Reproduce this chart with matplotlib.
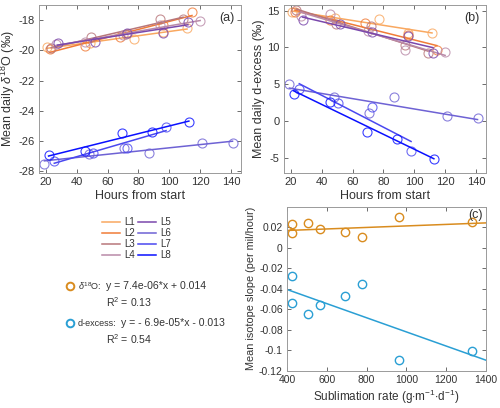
import numpy as np
import matplotlib
matplotlib.use("Agg")
import matplotlib.pyplot as plt
from matplotlib.lines import Line2D
from matplotlib.ticker import FuncFormatter

plt.rcParams['font.family'] = ['Liberation Sans', 'DejaVu Sans']
plt.rcParams['axes.unicode_minus'] = False
plt.rcParams['mathtext.fontset'] = 'custom'
plt.rcParams['mathtext.rm'] = 'Liberation Sans'
plt.rcParams['mathtext.it'] = 'Liberation Sans:italic'

# daily means for each experiment line
labels = ['L1', 'L2', 'L3', 'L4', 'L5', 'L6', 'L7', 'L8']
colors = ['#f9a860', '#f07c38', '#b8767a', '#b98aa8', '#7a48ac', '#6e62d4', '#4a48f0', '#0a10ff']

hours = [
    [20.4, 48.3, 77.2, 96.0, 111.5],
    [22.5, 45.3, 68.2, 96.0, 114.7],
    [23.5, 49.0, 71.8, 93.9, 108.9],
    [26.3, 45.3, 69.9, 93.9, 120.0],
    [27.5, 51.5, 72.5, 96.0, 112.1],
    [19.0, 47.8, 70.8, 86.8, 121.1, 141.0],
    [25.4, 50.3, 72.3, 97.9],
    [21.7, 45.4, 69.3, 88.8, 112.7],
]
d18o = [
    [-19.8, -19.5, -19.23, -18.8, -18.5],
    [-19.9, -19.7, -19.1, -18.3, -17.49],
    [-19.85, -19.1, -18.95, -17.93, -17.9],
    [-19.6, -19.45, -19.0, -18.33, -18.09],
    [-19.54, -19.43, -18.84, -18.84, -18.1],
    [-27.49, -26.87, -26.43, -26.81, -26.1, -26.13],
    [-27.3, -26.76, -26.43, -25.05],
    [-26.92, -26.63, -25.45, -25.38, -24.70],
]
dexcess = [
    [14.82, 14.0, 13.87, 11.96, 11.96],
    [14.77, 13.77, 13.32, 11.7, 9.6],
    [15.1, 13.18, 12.95, 10.3, 9.24],
    [14.22, 14.54, 12.3, 9.6, 9.32],
    [13.77, 13.18, 12.07, 11.5, 9.24],
    [5.04, 3.23, 1.13, 3.23, 0.68, 0.41],
    [4.36, 2.41, 1.87, -4.05],
    [3.72, 2.59, -1.5, -2.45, -5.2],
]

# panel (c)
subl_rate = [427, 427, 507, 566, 691, 778, 963, 1330]
slope_d18o = [0.0236, 0.0146, 0.0239, 0.018, 0.0155, 0.0107, 0.0297, 0.0252]
slope_dex = [-0.0272, -0.0534, -0.0648, -0.056, -0.047, -0.035, -0.109, -0.1004]
fit_a = [7.4e-06, -6.9e-05]
fit_b = [0.014, -0.013]
fit_r2 = [0.13, 0.54]
c_colors = ['#d98c1f', '#2a9fd4']

fig = plt.figure(figsize=(5, 4.08), dpi=100)
ax_a = fig.add_axes([0.078, 0.576, 0.404, 0.412])
ax_b = fig.add_axes([0.568, 0.576, 0.404, 0.412])
ax_c = fig.add_axes([0.574, 0.091, 0.398, 0.402])

TXT = '#333333'


def style(ax):
    ax.tick_params(direction='in', top=True, right=True, length=3,
                   labelsize=8, colors='#555555', width=0.6, pad=3)
    ax.tick_params(axis='both', labelcolor=TXT)
    for s in ax.spines.values():
        s.set_color('#9a9a9a')
        s.set_linewidth(0.7)


handles = []
for i in range(len(labels)):
    x = np.array(hours[i])
    for ax, vals in ((ax_a, d18o[i]), (ax_b, dexcess[i])):
        y = np.array(vals)
        p = np.polyfit(x, y, 1)
        xx = np.array([x.min(), x.max()])
        ax.plot(x, y, 'o', mfc='none', mec=colors[i], ms=6.5, mew=0.8, alpha=0.8)
        ln, = ax.plot(xx, np.polyval(p, xx), '-', color=colors[i], lw=1.1)
    handles.append(ln)

for ax in (ax_a, ax_b):
    ax.set_xlim(15.5, 146.5)
    ax.set_xticks(range(20, 141, 20))
    ax.set_xlabel('Hours from start', fontsize=9, color=TXT, labelpad=2)
    style(ax)

ax_a.set_ylim(-28.1, -17)
ax_a.set_yticks(range(-28, -17, 2))
ax_a.set_ylabel(r'Mean daily $\it{\delta}^{18}$O (‰)', fontsize=9, color=TXT, labelpad=1)
ax_a.text(0.97, 0.96, '(a)', transform=ax_a.transAxes, ha='right', va='top', fontsize=9, color=TXT)

ax_b.set_ylim(-7.1, 15.8)
ax_b.set_yticks([-5, 0, 5, 10, 15])
ax_b.set_ylabel('Mean daily d-excess (‰)', fontsize=9, color=TXT, labelpad=2)
ax_b.text(0.97, 0.96, '(b)', transform=ax_b.transAxes, ha='right', va='top', fontsize=9, color=TXT)

# panel (c)
xr = np.array([400, 1400])
for ys, a, b, c in zip((slope_d18o, slope_dex), fit_a, fit_b, c_colors):
    ax_c.plot(subl_rate, ys, 'o', mfc='none', mec=c, ms=6, mew=1.0)
    ax_c.plot(xr, a * xr + b, '-', color=c, lw=1.1)
ax_c.set_xlim(400, 1400)
ax_c.set_ylim(-0.12, 0.04)
ax_c.set_yticks([0.02, 0, -0.02, -0.04, -0.06, -0.08, -0.1, -0.12])
ax_c.yaxis.set_major_formatter(FuncFormatter(lambda v, pos: '%g' % round(v, 3)))
ax_c.set_xlabel(r'Sublimation rate (g$\cdot$m$^{-1}$$\cdot$d$^{-1}$)', fontsize=8.5, color=TXT, labelpad=2)
ax_c.set_ylabel('Mean isotope slope (per mil/hour)', fontsize=7.8, color=TXT, labelpad=2)
ax_c.text(0.985, 0.985, '(c)', transform=ax_c.transAxes, ha='right', va='top', fontsize=9, color=TXT)
style(ax_c)
ax_c.tick_params(labelsize=7.5)

# line legend
fig.legend(handles, labels, ncol=2, loc='upper left', bbox_to_anchor=(0.19, 0.485),
           frameon=False, fontsize=7, handlelength=1.9, handletextpad=0.4,
           columnspacing=0.3, labelspacing=0.12, borderpad=0.2, labelcolor=TXT)

# regression text
names = [r'$\it{\delta}^{18}$O:', 'd-excess:']
eq_x = [0.213, 0.242]
ys_txt = [1 - 286 / 408, 1 - 323 / 408]
for k in range(2):
    fig.add_artist(Line2D([0.14], [ys_txt[k]], marker='o', mfc='none', mec=c_colors[k],
                          ms=5.5, mew=1.4, transform=fig.transFigure))
    fig.text(0.156, ys_txt[k], names[k], fontsize=6.5, color=TXT, va='center')
    a, b = fit_a[k], fit_b[k]
    sa = '%.1e' % a if a >= 0 else '- %.1e' % abs(a)
    sb = '+ %g' % b if b >= 0 else '- %g' % abs(b)
    fig.text(eq_x[k], ys_txt[k], 'y = %s*x %s' % (sa, sb), fontsize=7.6, color=TXT, va='center')
    fig.text(0.213, ys_txt[k] - 16.5 / 408, r'R$^2$ = %.2f' % fit_r2[k], fontsize=7.6,
             color=TXT, va='center')

fig.savefig('out.png', dpi=100)
